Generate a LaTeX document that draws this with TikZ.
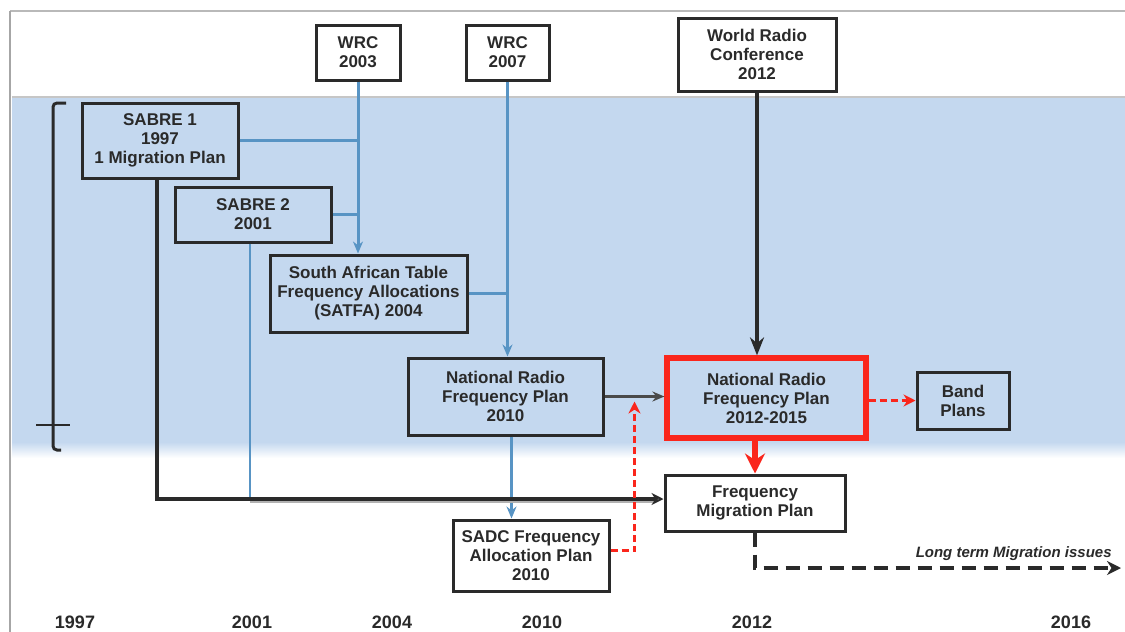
\documentclass[tikz,border=0pt]{standalone}
\usepackage{fontspec}
\setmainfont{Liberation Sans}
\usetikzlibrary{arrows.meta,calc}
\definecolor{bandblue}{RGB}{196,216,239}
\definecolor{conn}{RGB}{88,148,196}
\definecolor{ink}{RGB}{42,42,42}
\definecolor{redl}{RGB}{250,38,28}
\begin{document}
\begin{tikzpicture}[x=0.5pt,y=-0.5pt,
  box/.style={draw=ink,line width=1.5pt,align=center,text=ink,inner sep=1pt,
    font=\fontsize{8.5}{9.5}\selectfont\bfseries},
  redbox/.style={box,draw=redl,line width=2.6pt},
  year/.style={font=\fontsize{9}{10}\selectfont\bfseries,text=ink},
  blueline/.style={draw=conn,line width=1.5pt},
  bluearrow/.style={blueline,-{Stealth[length=6pt,width=5pt]}},
  reddash/.style={draw=redl,line width=1.6pt,dash pattern=on 3.5pt off 2pt,-{Stealth[length=6pt,width=6pt]}},
]
\useasboundingbox (0,0) rectangle (1125,632);
\fill[white] (0,0) rectangle (1125,632);
% background band
\fill[bandblue] (12,97) rectangle (1125,442);
\shade[top color=bandblue,bottom color=white] (12,442) rectangle (1125,458);
\draw[gray!55,line width=0.6pt] (10,11) -- (1125,11);
\draw[gray!45,line width=0.6pt] (12,97) -- (1125,97);
\draw[gray!70,line width=0.9pt] (10,11) -- (10,632);
% bracket
\draw[ink,line width=1.5pt,rounded corners=2pt] (66,103) -- (53,103) -- (53,450) -- (61,450);
\draw[ink,line width=1.2pt] (36,425) -- (70,425);

% boxes
\node[box,minimum width=78pt,minimum height=37.5pt] (sabre1) at (160,140.5) {SABRE 1\\1997\\1 Migration Plan};
\node[box,minimum width=78pt,minimum height=27.5pt] (sabre2) at (253,214.5) {SABRE 2\\2001};
\node[box,minimum width=42pt,minimum height=27.5pt] (wrc03) at (358,52.5) {WRC\\2003};
\node[box,minimum width=41.5pt,minimum height=27.5pt] (wrc07) at (507.5,52.5) {WRC\\2007};
\node[box,minimum width=79pt,minimum height=36.5pt] (wrc12) at (757,54.5) {World Radio\\Conference\\2012};
\node[box,minimum width=98.5pt,minimum height=38.5pt] (satfa) at (368.5,293.5) {South African Table\\Frequency Allocations\\(SATFA) 2004};
\node[box,minimum width=97.5pt,minimum height=38.5pt] (nrfp10) at (505.5,396.5) {National Radio\\Frequency Plan\\2010};
\node[redbox,minimum width=99.5pt,minimum height=40pt] (nrfp12) at (766.5,398) {National Radio\\Frequency Plan\\2012-2015};
\node[box,minimum width=46pt,minimum height=28.5pt] (band) at (963,400.5) {Band\\Plans};
\node[box,minimum width=90pt,minimum height=28pt] (fmp) at (755,503) {Frequency\\Migration Plan};
\node[box,minimum width=78pt,minimum height=35.5pt] (sadc) at (531,555.5) {SADC Frequency\\Allocation Plan\\2010};

% years
\node[year] (y1997) at (75,622) {1997};
\node[year] (y2001) at (252,622) {2001};
\node[year] (y2004) at (392,622) {2004};
\node[year] (y2010) at (542,622) {2010};
\node[year] (y2012) at (752,622) {2012};
\node[year] (y2016) at (1071,622) {2016};

% blue connectors
\draw[bluearrow] (wrc03.south) -- (wrc03.south |- satfa.north);
\draw[blueline] (sabre1.east) -- (sabre1.east -| wrc03.south);
\draw[blueline] (sabre2.east) -- (sabre2.east -| wrc03.south);
\draw[bluearrow] (wrc07.south) -- (wrc07.south |- nrfp10.north);
\draw[blueline] (satfa.east) -- (satfa.east -| wrc07.south);
\coordinate (n10s) at ($(nrfp10.south)+(6,0)$);
\draw[bluearrow] (n10s) -- (n10s |- sadc.north);

% migration line
\coordinate (fmpin) at ($(fmp.west)+(0,-4)$);
\coordinate (s2b) at ($(sabre2.south)+(-3,0)$);
\draw[gray!60,line width=0.9pt] ($(s2b |- fmpin)+(0,3)$) -- ($(fmpin)+(-8,3)$);
\draw[conn,line width=1.1pt] (s2b) -- ($(s2b |- fmpin)+(0,2)$);
\draw[ink,line width=1.8pt,-{Stealth[open,length=6pt,width=6pt]}] ($(sabre1.south)+(-3,0)$) -- ($(sabre1.south |- fmpin)+(-3,0)$) -- (fmpin);

% black / gray arrows
\draw[ink,line width=1.6pt,-{Stealth[length=9pt,width=7pt]}] (wrc12.south) -- (wrc12.south |- nrfp12.north);
\draw[ink!85,line width=1.4pt,-{Stealth[open,length=6pt,width=5pt]}] (nrfp10.east) -- (nrfp10.east -| nrfp12.west);

% red connectors
\coordinate (sadcout) at ($(sadc.east)+(0,-5)$);
\coordinate (rcorner) at ($(sadc.east)+(24,-5)$);
\draw[reddash] (sadcout) -- (rcorner) -- ($(rcorner |- nrfp10.east)+(0,5)$);
\draw[reddash] (nrfp12.east |- band.west) -- (band.west);
\draw[redl,line width=2.6pt,-{Stealth[length=10pt,width=10pt]}] (fmp.north |- nrfp12.south) -- (fmp.north);

% long term dashed
\coordinate (ltend) at (1121,568);
\draw[ink,line width=2pt,dash pattern=on 7pt off 4pt,-{Stealth[length=7pt,width=7pt]}] (fmp.south) -- (fmp.south |- ltend) -- (ltend);
\node[font=\fontsize{7.5}{8}\selectfont\bfseries\itshape,text=ink,anchor=base east,inner sep=0pt] (lt) at (1112,557) {Long term Migration issues};
\end{tikzpicture}
\end{document}
